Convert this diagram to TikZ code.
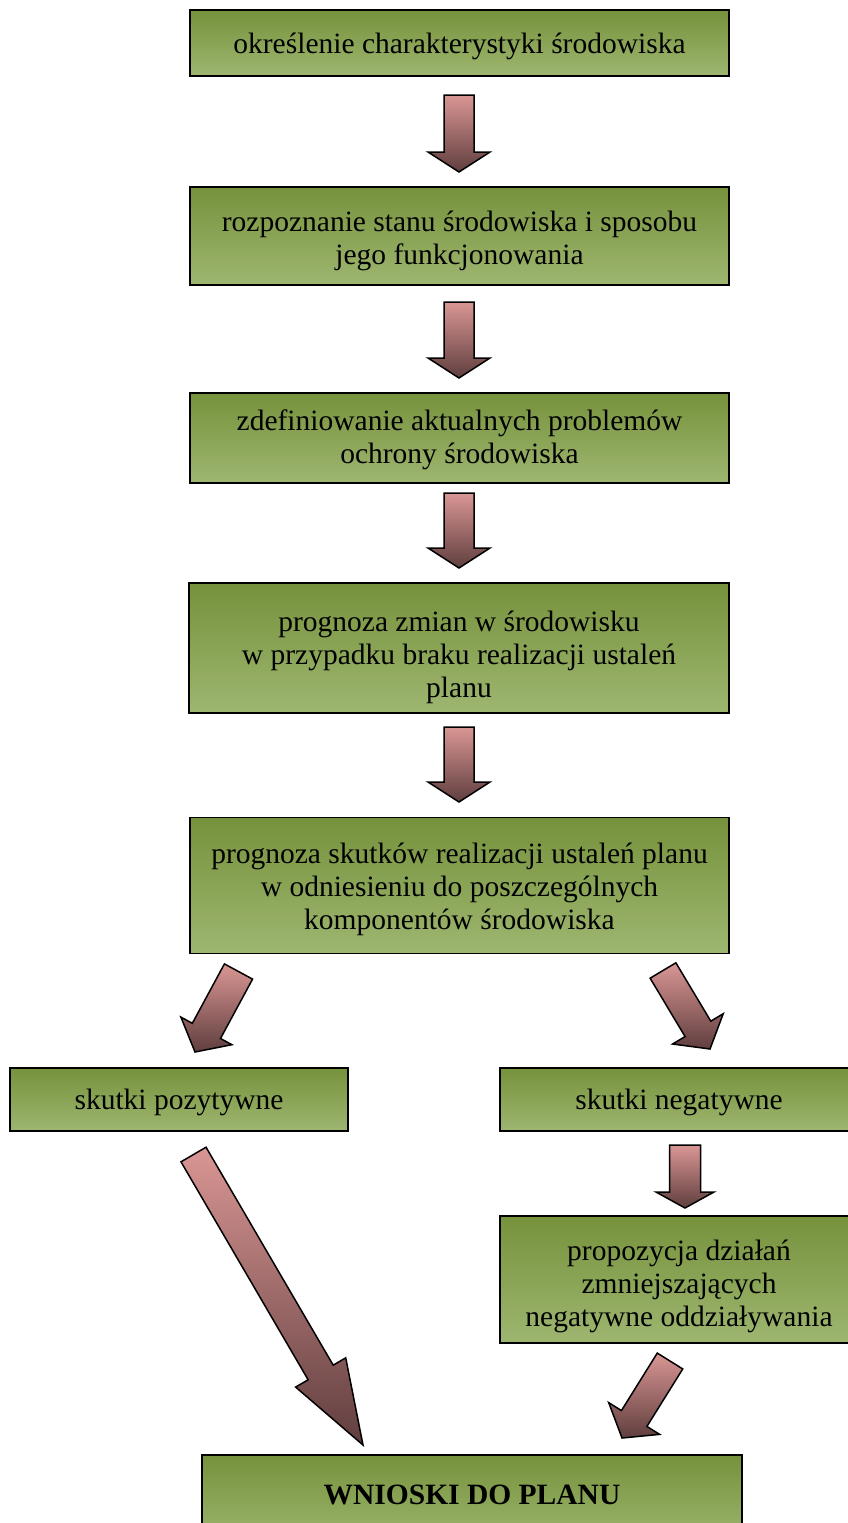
\documentclass[tikz,border=0pt]{standalone}
\usepackage{fontspec}
\setmainfont{Liberation Serif}
\usetikzlibrary{calc}
\definecolor{gtop}{RGB}{118,146,60}
\definecolor{gbot}{RGB}{158,182,112}
\definecolor{atop}{RGB}{217,150,148}
\definecolor{abot}{RGB}{96,62,62}
\tikzset{
  box/.style={rectangle, draw=black, line width=1.8pt, top color=gtop, bottom color=gbot, inner sep=0pt},
  boxtext/.style={align=center, inner sep=0pt, font=\fontsize{29.5}{33}\selectfont},
  fat/.style={draw=black, line width=1.5pt, line join=miter, top color=atop, bottom color=abot},
}
% #2 start, #3 tip, #4 shaft half width, #5 head half width, #6 head length
\newcommand\fatarrow[6][]{%
  \coordinate (fa-h) at ($(#3)!#6!(#2)$);
  \path[fat,#1] ($(#2)!#4!90:(#3)$) -- ($(fa-h)!#4!-90:(#2)$) -- ($(fa-h)!#5!-90:(#2)$)
    -- (#3) -- ($(fa-h)!#5!90:(#2)$) -- ($(fa-h)!#4!90:(#2)$) -- ($(#2)!#4!-90:(#3)$) -- cycle;
}
\begin{document}
\begin{tikzpicture}[x=1pt,y=-1pt]
\useasboundingbox (0,0) rectangle (848,1523);
% boxes
\node[box, minimum width=539pt, minimum height=66pt]  (b1) at (459.5,43) {};
\node[box, minimum width=539pt, minimum height=98pt]  (b2) at (459.5,236) {};
\node[box, minimum width=539pt, minimum height=90pt]  (b3) at (459.5,438) {};
\node[box, minimum width=540pt, minimum height=130pt] (b4) at (459,648) {};
\node[box, minimum width=539pt, minimum height=136pt] (b5) at (459.5,885.5) {};
\node[box, minimum width=338pt, minimum height=63pt]  (b6) at (179,1099.5) {};
\node[box, minimum width=358pt, minimum height=63pt]  (b7) at (679,1099.5) {};
\node[box, minimum width=358pt, minimum height=127pt] (b8) at (679,1279.5) {};
\node[box, minimum width=540pt, minimum height=90pt]  (b9) at (472,1500) {};
% texts
\node[boxtext, yshift=-3pt] (t1) at (b1.center) {określenie charakterystyki środowiska};
\node[boxtext, yshift=-5pt] (t2) at (b2.center) {rozpoznanie stanu środowiska i sposobu\\jego funkcjonowania};
\node[boxtext, yshift=-2pt] (t3) at (b3.center) {zdefiniowanie aktualnych problemów\\ochrony środowiska};
\node[boxtext, yshift=-9pt] (t4) at (b4.center) {prognoza zmian w środowisku\\w przypadku braku realizacji ustaleń\\planu};
\node[boxtext, yshift=-4pt] (t5) at (b5.center) {prognoza skutków realizacji ustaleń planu\\w odniesieniu do poszczególnych\\komponentów środowiska};
\node[boxtext, yshift=-3pt] (t6) at (b6.center) {skutki pozytywne};
\node[boxtext, yshift=-3pt] (t7) at (b7.center) {skutki negatywne};
\node[boxtext, yshift=-7pt] (t8) at (b8.center) {propozycja działań\\zmniejszających\\negatywne oddziaływania};
\node[boxtext, font=\fontsize{29.5}{33}\selectfont\bfseries] (t9) at (472,1495) {WNIOSKI DO PLANU};
% arrow end points
\coordinate (a1s) at (459,95);   \coordinate (a1t) at (459,172);
\coordinate (a2s) at (459,302);  \coordinate (a2t) at (459,378);
\coordinate (a3s) at (459,493);  \coordinate (a3t) at (459,568);
\coordinate (a4s) at (459,727);  \coordinate (a4t) at (459,802);
\coordinate (l1s) at (238.5,971.5); \coordinate (l1t) at (195,1052);
\coordinate (r1s) at (663,970.5);   \coordinate (r1t) at (710,1049);
\coordinate (a5s) at (685,1145); \coordinate (a5t) at (685,1208);
\coordinate (lls) at (193.5,1154.5); \coordinate (llt) at (363,1445);
\coordinate (r2s) at (670,1361);  \coordinate (r2t) at (622,1438);
% arrows
\fatarrow{a1s}{a1t}{15pt}{31pt}{20pt}
\fatarrow{a2s}{a2t}{15pt}{31pt}{20pt}
\fatarrow{a3s}{a3t}{15pt}{31pt}{20pt}
\fatarrow{a4s}{a4t}{15pt}{31pt}{20pt}
\fatarrow{l1s}{l1t}{16pt}{29pt}{24pt}
\fatarrow{r1s}{r1t}{15pt}{29.5pt}{23.5pt}
\fatarrow{a5s}{a5t}{15.5pt}{29pt}{16pt}
\fatarrow{lls}{llt}{14.5pt}{29pt}{84pt}
\fatarrow{r2s}{r2t}{15pt}{30pt}{23pt}
\end{tikzpicture}
\end{document}
